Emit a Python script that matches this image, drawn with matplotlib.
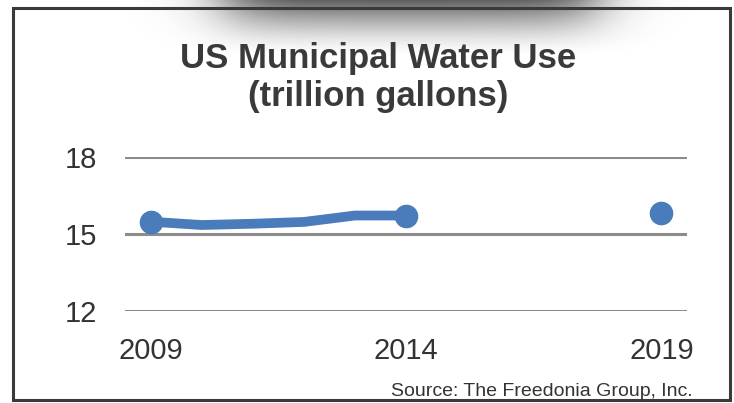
import numpy as np
import matplotlib
matplotlib.use("Agg")
import matplotlib.pyplot as plt
from matplotlib.patches import Rectangle

years = [2009, 2010, 2011, 2012, 2013, 2014]
values = [15.48, 15.35, 15.40, 15.47, 15.72, 15.72]
marker_years = [2009, 2014, 2019]
marker_values = [15.48, 15.72, 15.83]
yticks = [12, 15, 18]
xticks = [2009, 2014, 2019]
title_lines = ["US Municipal Water Use", "(trillion gallons)"]
source = "Source: The Freedonia Group, Inc."

W, H = 734, 403
fig = plt.figure(figsize=(W / 100, H / 100), dpi=100)
fig.patch.set_facecolor("white")

# top shadow
bg = fig.add_axes([0, 0, 1, 1], zorder=0)
bg.axis("off")
xs = np.arange(W)
ys = np.arange(60)
fx = 1 / (1 + np.exp(-(xs - 225) / 20)) * 1 / (1 + np.exp((xs - 595) / 20))
gy = np.clip(1 - ys / 55, 0, 1) ** 1.5
alpha = 0.8 * np.outer(gy, fx)
img = np.zeros((60, W, 4))
img[..., :3] = 0.22
img[..., 3] = alpha
bg.imshow(img, extent=(0, W, 60, 0), aspect="auto", interpolation="bilinear")
bg.add_patch(Rectangle((13, 7.5), 717, 392.5, fill=False, edgecolor="#3a3a3a", lw=2.2))
bg.set_xlim(0, W)
bg.set_ylim(H, 0)

ax = fig.add_axes([125 / W, 1 - 311 / H, 562 / W, 154 / H], zorder=1)
ax.patch.set_alpha(0)
ax.set_xlim(2008.5, 2019.5)
ax.set_ylim(12, 18)
for s in ax.spines.values():
    s.set_visible(False)
for t in yticks:
    ax.axhline(t, color="#8c8c8c", lw=2.2, zorder=1)
blue = "#4a7bbb"
ax.plot(years, values, color=blue, lw=7, solid_capstyle="round", solid_joinstyle="round", zorder=3)
ax.plot(marker_years, marker_values, "o", color=blue, ms=16, zorder=4, mec=blue)
ax.set_xticks(xticks)
ax.set_yticks(yticks)
ax.set_xticklabels([str(x) for x in xticks])
ax.tick_params(length=0, labelsize=21, colors="#333333")
ax.tick_params(axis="y", pad=20)
ax.tick_params(axis="x", pad=19)
for lab in ax.get_xticklabels() + ax.get_yticklabels():
    lab.set_family("Liberation Sans")

fig.text(378 / W, 1 - 68 / H, title_lines[0], ha="center", va="baseline", fontsize=25,
         fontweight="bold", color="#3a3a3a", family="Liberation Sans")
fig.text(378 / W, 1 - 106 / H, title_lines[1], ha="center", va="baseline", fontsize=25,
         fontweight="bold", color="#3a3a3a", family="Liberation Sans")
fig.text(693 / W, 1 - 391 / H, source, ha="right", va="center", fontsize=14,
         color="#333333", family="Liberation Sans")

fig.savefig("out.png", dpi=100)
